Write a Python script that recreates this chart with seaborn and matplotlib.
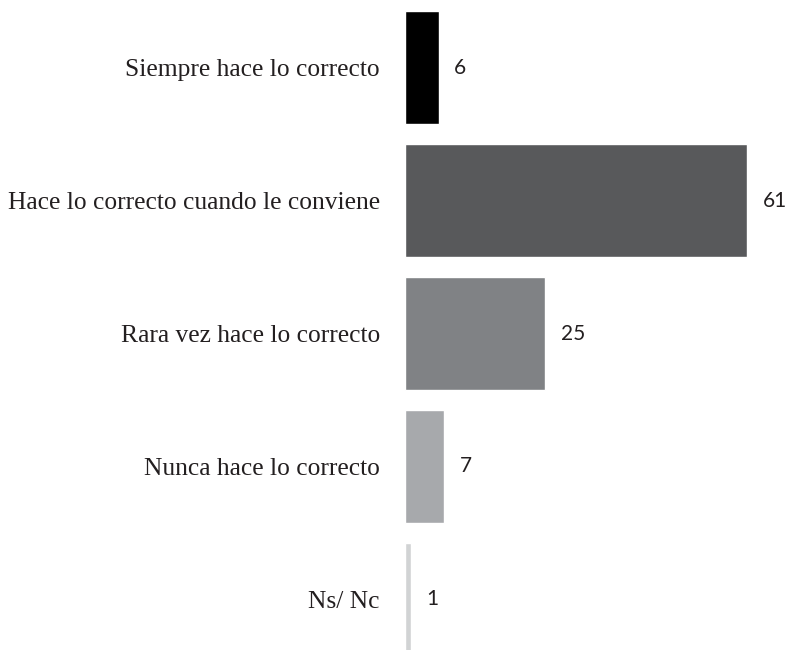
import matplotlib
matplotlib.use("Agg")
import matplotlib.pyplot as plt
import seaborn as sns
import pandas as pd

categories = [
    "Siempre hace lo correcto",
    "Hace lo correcto cuando le conviene",
    "Rara vez hace lo correcto",
    "Nunca hace lo correcto",
    "Ns/ Nc",
]
values = [6, 61, 25, 7, 1]
colors = ["#000000", "#58595b", "#808285", "#a7a9ac", "#d1d3d4"]

df = pd.DataFrame({"categoria": categories, "valor": values})

sns.set_style("white")

fig = plt.figure(figsize=(7.87, 6.5), dpi=100, facecolor="white")
ax = fig.add_axes([405 / 787, 0, 1 - 405 / 787, 1])

sns.barplot(data=df, y="categoria", x="valor", hue="categoria",
            palette=colors, legend=False, width=0.85, saturation=1, ax=ax)

ax.set_xlim(0, 68.1)
ax.set_ylim(4.38, -0.508)
ax.set_xlabel("")
ax.set_ylabel("")
ax.set_xticks([])
sns.despine(ax=ax, left=True, bottom=True)
ax.tick_params(axis="y", length=0, pad=18)
for lbl in ax.get_yticklabels():
    lbl.set_fontfamily("Liberation Serif")
    lbl.set_fontsize(18.4)
    lbl.set_color("#231f20")

# value labels to the right of each bar
for i, v in enumerate(values):
    ax.annotate(str(v), xy=(v, i), xytext=(11, 0), textcoords="offset points",
                va="center", ha="left", fontsize=15, family="Lato",
                color="#231f20")

fig.savefig("out.png", dpi=100, facecolor="white")
